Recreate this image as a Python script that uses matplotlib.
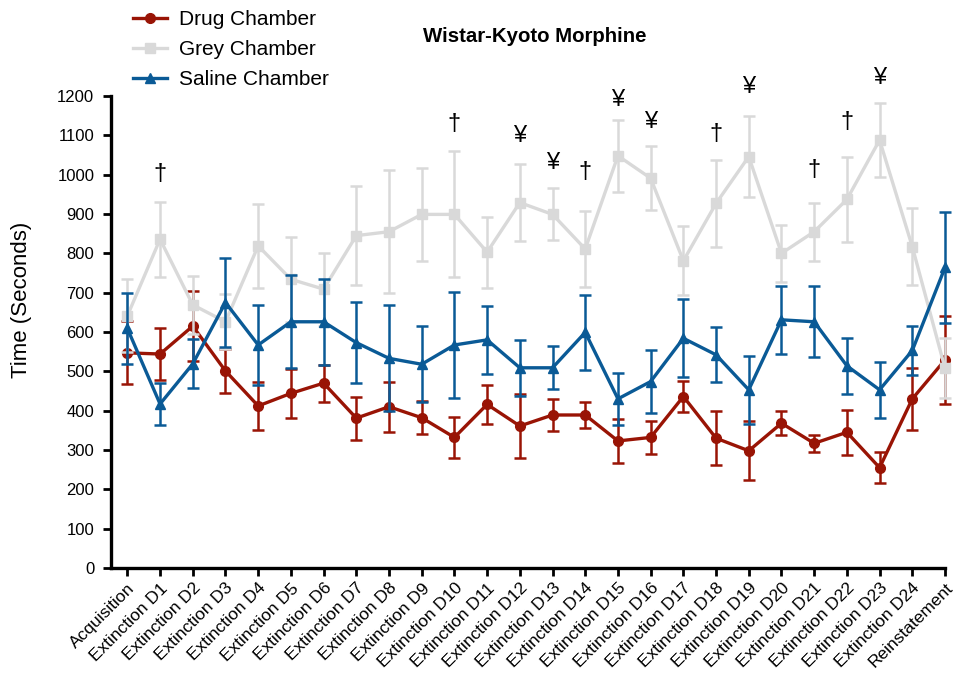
import matplotlib
matplotlib.use("Agg")
import matplotlib.pyplot as plt
from matplotlib.lines import Line2D

plt.rcParams["font.family"] = ["Liberation Sans", "DejaVu Sans"]

# Sessions
sessions = ["Acquisition"] + [f"Extinction D{i}" for i in range(1, 25)] + ["Reinstatement"]

# Mean time (s) and SEM per chamber
drug_mean = [547, 544, 615, 501, 412, 444, 470, 381, 410, 382, 332, 416, 361, 389, 389, 323,
             332, 436, 330, 298, 368, 317, 345, 255, 430, 529]
drug_err = [80, 66, 88, 55, 62, 63, 47, 55, 64, 42, 52, 50, 81, 41, 32, 57,
            42, 40, 68, 75, 31, 21, 57, 40, 79, 111]

grey_mean = [641, 836, 669, 626, 819, 734, 709, 845, 855, 899, 899, 803, 929, 899, 811, 1048,
             991, 781, 927, 1046, 800, 855, 937, 1088, 817, 508]
grey_err = [93, 95, 73, 70, 106, 108, 93, 126, 156, 118, 160, 90, 98, 66, 96, 91,
            81, 88, 110, 104, 73, 74, 109, 94, 98, 77]

saline_mean = [609, 417, 519, 675, 567, 626, 626, 573, 533, 518, 567, 580, 509, 509, 599, 430,
               474, 584, 542, 453, 631, 626, 514, 453, 553, 764]
saline_err = [90, 53, 62, 112, 102, 118, 110, 103, 135, 97, 135, 87, 71, 55, 95, 66,
              80, 99, 70, 86, 87, 90, 72, 72, 62, 142]

# Significance markers: session index, symbol, height (s)
sig_index = [1, 10, 12, 13, 14, 15, 16, 18, 19, 21, 22, 23]
sig_symbol = ["†", "†", "¥", "¥", "†", "¥", "¥", "†", "¥", "†", "†", "¥"]
sig_height = [1002, 1129, 1098, 1030, 1007, 1190, 1134, 1103, 1223, 1012, 1134, 1246]

RED = "#991405"
GREY = "#D9D9D9"
BLUE = "#0A5A96"

fig = plt.figure(figsize=(9.54, 6.84), dpi=100)
ax = fig.add_axes([111 / 954, 1 - 568 / 684, (945 - 111) / 954, (568 - 96) / 684])

x = list(range(len(sessions)))
series = [
    ("Drug Chamber", drug_mean, drug_err, RED, "o", 7, 2),
    ("Grey Chamber", grey_mean, grey_err, GREY, "s", 7.5, 3),
    ("Saline Chamber", saline_mean, saline_err, BLUE, "^", 7, 4),
]
handles = []
for label, m, e, col, mk, ms, z in series:
    ax.errorbar(x, m, yerr=e, color=col, marker=mk, markersize=ms, lw=2.4,
                elinewidth=1.8, capsize=4.3, capthick=1.8, zorder=z, clip_on=False)
    handles.append(Line2D([], [], color=col, marker=mk, markersize=ms, lw=2.4))

for i, s, h in zip(sig_index, sig_symbol, sig_height):
    ax.text(i, h, s, ha="center", va="center", fontsize=17, color="black")

ax.set_xlim(-0.5, len(sessions) - 1)
ax.set_ylim(0, 1200)
ax.set_yticks(range(0, 1201, 100))
ax.set_xticks(x)
ax.set_xticklabels(sessions, rotation=45, ha="right", rotation_mode="anchor")
ax.tick_params(axis="both", width=2, length=6, color="black")
ax.tick_params(axis="y", labelsize=12, pad=6)
ax.tick_params(axis="x", labelsize=12.5, pad=3)
for side in ("top", "right"):
    ax.spines[side].set_visible(False)
for side in ("left", "bottom"):
    ax.spines[side].set_linewidth(2.4)
ax.set_ylabel("Time (Seconds)", fontsize=16)
ax.yaxis.set_label_coords((32 - 111) / 834, (568 - 300) / 472)

fig.text(535 / 954, 1 - 37 / 684, "Wistar-Kyoto Morphine", ha="center", va="center",
         fontsize=14.7, fontweight="bold")

fig.legend(handles, [s[0] for s in series], loc="upper left",
           bbox_to_anchor=(125 / 954, 1 - 2 / 684), frameon=False, fontsize=15,
           handlelength=1.6, handletextpad=0.6, labelspacing=0.52, borderaxespad=0)

fig.savefig("out.png", dpi=100)
